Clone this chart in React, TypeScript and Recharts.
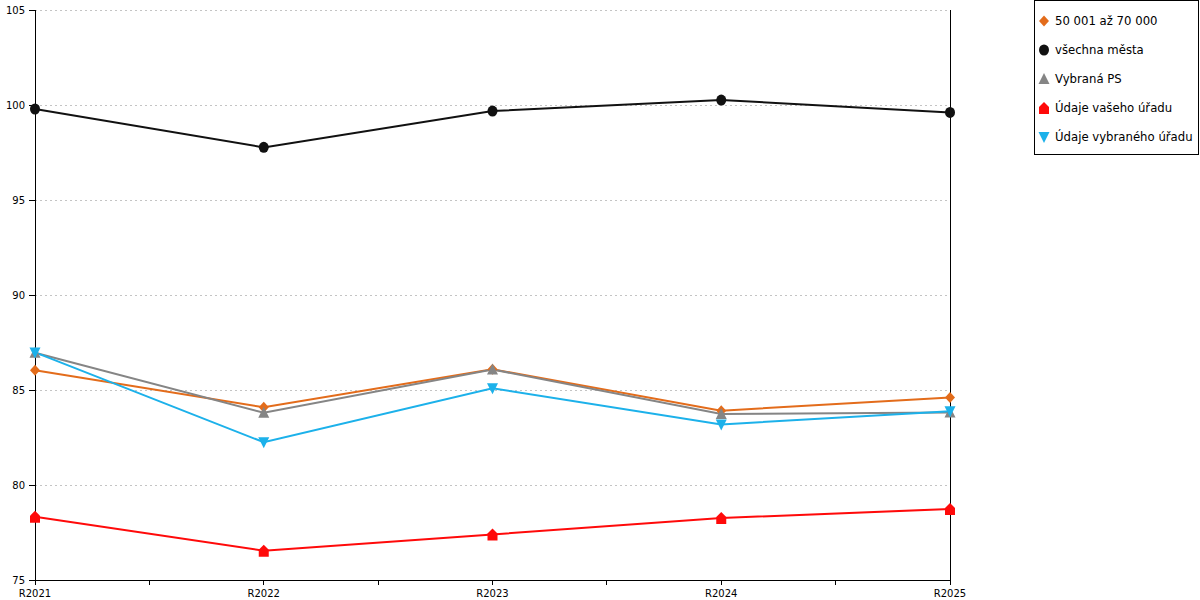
import React from 'react';
import { LineChart, Line, XAxis, YAxis, CartesianGrid, Legend, ReferenceLine } from 'recharts';

const categories = ['R2021', 'R2022', 'R2023', 'R2024', 'R2025'];
const xTicks = [0, 0.5, 1, 1.5, 2, 2.5, 3, 3.5, 4];
const yTicks = [75, 80, 85, 90, 95, 100, 105];

const s5070 = [86.04, 84.09, 86.09, 83.91, 84.61];
const allCities = [99.79, 97.77, 99.68, 100.26, 99.61];
const selectedPS = [86.96, 83.8, 86.08, 83.74, 83.81];
const yourOffice = [78.33, 76.54, 77.4, 78.26, 78.74];
const selectedOffice = [86.98, 82.25, 85.09, 83.19, 83.88];

const names = ['50 001 až 70 000', 'všechna města', 'Vybraná PS', 'Údaje vašeho úřadu', 'Údaje vybraného úřadu'];
const colors = ['#E36C1B', '#111111', '#858585', '#FF0A0A', '#1CB1EA'];

const data = categories.map((c, i) => ({
  x: i,
  a: s5070[i],
  b: allCities[i],
  c: selectedPS[i],
  d: yourOffice[i],
  e: selectedOffice[i],
}));

type SP = { cx: number; cy: number; fill: string };
const Diamond = ({ cx, cy, fill }: SP) => (
  <path d={`M${cx},${cy - 5.5}L${cx + 5},${cy}L${cx},${cy + 5.5}L${cx - 5},${cy}Z`} fill={fill} />
);
const Circ = ({ cx, cy, fill }: SP) => <ellipse cx={cx} cy={cy} rx={5} ry={5.5} fill={fill} />;
const TriUp = ({ cx, cy, fill }: SP) => (
  <path d={`M${cx},${cy - 6}L${cx + 5.5},${cy + 5}L${cx - 5.5},${cy + 5}Z`} fill={fill} />
);
const TriDown = ({ cx, cy, fill }: SP) => (
  <path d={`M${cx},${cy + 6}L${cx + 5.5},${cy - 5}L${cx - 5.5},${cy - 5}Z`} fill={fill} />
);
const House = ({ cx, cy, fill }: SP) => (
  <path d={`M${cx - 5},${cy + 6}L${cx - 5},${cy - 1}L${cx},${cy - 6}L${cx + 5},${cy - 1}L${cx + 5},${cy + 6}Z`} fill={fill} />
);
const shapes = [Diamond, Circ, TriUp, House, TriDown];

const makeDot = (Shape: any, color: string) => (props: any) => {
  const { cx, cy, index } = props;
  if (cx == null || cy == null) return <g key={`n${index}`} />;
  return <Shape key={`d${index}`} cx={cx} cy={cy} fill={color} />;
};

const font = 'DejaVu Sans';

const renderLegend = () => (
  <div
    style={{
      position: 'relative',
      width: 165,
      height: 155,
      border: '1px solid #000',
      boxSizing: 'border-box',
      background: '#fff',
      fontFamily: font,
      fontSize: 11.7,
      color: '#000',
    }}
  >
    {names.map((n, i) => {
      const Shape = shapes[i];
      const cy = 20 + 28.9 * i;
      return (
        <div key={n} style={{ position: 'absolute', left: 0, top: cy - 10, height: 20, width: 163 }}>
          <svg width={14} height={14} style={{ position: 'absolute', left: 2, top: 3 }}>
            <Shape cx={7} cy={7} fill={colors[i]} />
          </svg>
          <span style={{ position: 'absolute', left: 20, top: 2, whiteSpace: 'nowrap', lineHeight: '16px' }}>{n}</span>
        </div>
      );
    })}
  </div>
);

const keys = ['a', 'b', 'c', 'd', 'e'];
const axisStyle = { stroke: '#000', strokeWidth: 1, shapeRendering: 'crispEdges' } as any;

export default function App() {
  return (
    <div style={{ position: 'absolute', left: 0, top: 0 }}>
      <LineChart width={1200} height={600} data={data} margin={{ top: 10, right: 250, left: 0, bottom: 0 }}>
        <CartesianGrid horizontal vertical={false} stroke="#c4c4c4" strokeDasharray="2 3" shapeRendering="crispEdges" />
        <XAxis
          dataKey="x"
          type="number"
          domain={[0, 4]}
          ticks={xTicks}
          interval={0}
          height={20}
          tickSize={5}
          tickMargin={5}
          axisLine={axisStyle}
          tickLine={axisStyle}
          tickFormatter={(v: number) => (Number.isInteger(v) ? categories[v] : '')}
          tick={{ fill: '#000', fontSize: 10, fontFamily: font }}
        />
        <YAxis
          domain={[75, 105]}
          ticks={yTicks}
          interval={0}
          width={35}
          tickSize={6}
          tickMargin={4}
          axisLine={axisStyle}
          tickLine={axisStyle}
          tick={{ fill: '#000', fontSize: 10, fontFamily: font }}
        />
        <ReferenceLine x={4} stroke="#000" strokeWidth={1} shapeRendering="crispEdges" />
        {keys.map((k, i) => (
          <Line
            key={k}
            dataKey={k}
            name={names[i]}
            type="linear"
            stroke={colors[i]}
            strokeWidth={2}
            dot={makeDot(shapes[i], colors[i])}
            activeDot={false}
            isAnimationActive={false}
          />
        ))}
        <Legend
          layout="horizontal"
          verticalAlign="middle"
          align="center"
          width={165}
          height={155}
          content={renderLegend}
          wrapperStyle={{ left: 1034, top: 0 }}
        />
      </LineChart>
    </div>
  );
}
